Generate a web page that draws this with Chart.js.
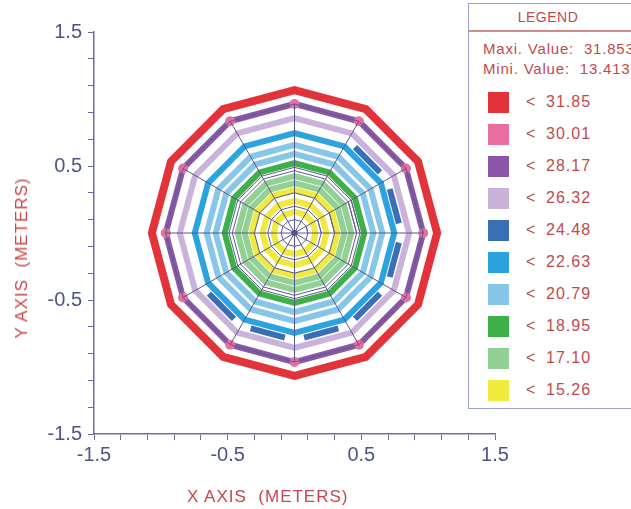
<!DOCTYPE html>
<html lang="en">
<head>
  <meta charset="UTF-8">
  <title>Contour plot</title>
  <script src="https://cdn.jsdelivr.net/npm/chart.js"></script>
  <style>
    body {
      margin: 0;
      background: #fff;
      font-family: "Liberation Sans", Arial, sans-serif;
    }
    #wrap {
      position: relative;
      width: 631px;
      height: 509px;
      overflow: hidden;
    }
    .titulo {
      position: absolute;
      color: #c9474a;
      font-size: 17px;
      letter-spacing: 1px;
      white-space: pre;
    }
    #xTitle { left: 187px; top: 487px; }
    #yTitle { left: 22px; top: 258px; transform: translate(-50%, -50%) rotate(-90deg); }
    #legend {
      position: absolute;
      left: 468px;
      top: 3px;
      width: 175px;
      height: 404px;
      border: 1px solid #9ca1cf;
      background: #fff;
      color: #bf4a4c;
    }
    #legend .head {
      position: absolute; left: 0; top: 5px; width: 158px;
      text-align: center; font-size: 14px; letter-spacing: 0.5px;
    }
    #legend .rule {
      position: absolute; left: 0; top: 26px; width: 175px; height: 0;
      border-top: 2px solid #d58a8a;
    }
    #legend .info {
      position: absolute; left: 14px; font-size: 15px; letter-spacing: 0.8px; white-space: pre;
    }
    .item { position: absolute; left: 19px; height: 21px; }
    .item .sw { position: absolute; left: 0; top: 0; width: 21px; height: 21px; }
    .item .lt { position: absolute; left: 38px; top: 1px; font-size: 16px; }
    .item .val { position: absolute; left: 58px; top: 1px; font-size: 16px; letter-spacing: 1px; }
  </style>
</head>
<body>
<div id="wrap">
  <canvas id="grafico" width="631" height="509"></canvas>
  <div class="titulo" id="xTitle">X AXIS  (METERS)</div>
  <div class="titulo" id="yTitle">Y AXIS  (METERS)</div>
  <div id="legend">
    <div class="head">LEGEND</div>
    <div class="rule"></div>
    <div class="info" id="maxInfo" style="top:36px"></div>
    <div class="info" id="minInfo" style="top:56px"></div>
  </div>
</div>

<script>
  // legend classes
  const legendLimits = [31.85, 30.01, 28.17, 26.32, 24.48, 22.63, 20.79, 18.95, 17.10, 15.26];
  const legendColors = ['#e2323a', '#e96ea0', '#8a57a8', '#cbb2da', '#3a6fb7',
                        '#2ba3df', '#86c6e8', '#3eb04a', '#93d094', '#f0e93e'];
  const maxValue = 31.853;
  const minValue = 13.413;

  // contour rings (dodecagons): radius in meters and legend class
  const ringRadius = [1.067, 0.963, 0.858, 0.746, 0.657, 0.590, 0.522, 0.425, 0.373, 0.321, 0.239, 0.157];
  const ringClass  = [0, 2, 3, 5, 6, 6, 7, 8, 8, 9, 9, 9];

  // partial contour (24.48) only on some sides of the polygon
  const partialRadius = 0.80;
  const partialClass = 4;
  const partialSides = [0, 1, 7, 8, 9, 10, 11];

  // 30.01 spots sit on the corners of this ring
  const spotRadius = 0.963;
  const spotClass = 1;

  // mesh
  const meshRings = [0.963, 0.49, 0.465, 0.30, 0.20, 0.10];
  const spokeLength = 0.963;
  const sides = 12;

  // axis
  const axisMin = -1.5, axisMax = 1.5, axisStep = 0.2, labelEvery = 5;

  // -------- legend (html) --------
  const legend = document.getElementById('legend');
  document.getElementById('maxInfo').textContent = 'Maxi. Value:  ' + maxValue.toFixed(3);
  document.getElementById('minInfo').textContent = 'Mini. Value:  ' + minValue.toFixed(3);
  legendLimits.forEach((v, i) => {
    const it = document.createElement('div');
    it.className = 'item';
    it.style.top = (88 + i * 32) + 'px';
    it.innerHTML = '<div class="sw" style="background:' + legendColors[i] + '"></div>' +
                   '<div class="lt">&lt;</div><div class="val">' + v.toFixed(2) + '</div>';
    legend.appendChild(it);
  });

  // -------- chart --------
  function vertex(r, k) {
    const a = k * 2 * Math.PI / sides;
    return { x: r * Math.cos(a), y: r * Math.sin(a) };
  }
  function polygon(r) {
    const pts = [];
    for (let k = 0; k <= sides + 1; k++) pts.push(vertex(r, k));
    return pts;
  }

  const datasets = [];
  const base = { showLine: true, pointRadius: 0, borderJoinStyle: 'miter', borderCapStyle: 'butt' };

  // spokes
  for (let k = 0; k < sides; k++) {
    datasets.push(Object.assign({}, base, {
      data: [{ x: 0, y: 0 }, vertex(spokeLength, k)],
      borderColor: '#56578c', borderWidth: 1, order: 0
    }));
  }
  // mesh rings
  meshRings.forEach(r => {
    datasets.push(Object.assign({}, base, {
      data: polygon(r), borderColor: '#5b5c8e', borderWidth: 1, order: 0
    }));
  });
  // center dot
  datasets.push({ data: [{ x: 0, y: 0 }], pointRadius: 3, backgroundColor: '#2f3190',
                  borderWidth: 0, order: 0 });
  // spots at corners
  const spots = [];
  for (let k = 0; k < sides; k++) spots.push(vertex(spotRadius, k));
  datasets.push({ data: spots, pointRadius: 5, pointStyle: 'circle', backgroundColor: legendColors[spotClass],
                  borderWidth: 0, order: 1 });
  // full rings
  ringRadius.forEach((r, i) => {
    datasets.push(Object.assign({}, base, {
      data: polygon(r),
      borderColor: legendColors[ringClass[i]],
      borderWidth: ringClass[i] === 0 ? 8 : 6,
      order: 2
    }));
  });
  // partial ring pieces
  partialSides.forEach(k => {
    const a = vertex(partialRadius, k), b = vertex(partialRadius, k + 1);
    const t0 = 0.18, t1 = 0.82;
    datasets.push(Object.assign({}, base, {
      data: [{ x: a.x + (b.x - a.x) * t0, y: a.y + (b.y - a.y) * t0 },
             { x: a.x + (b.x - a.x) * t1, y: a.y + (b.y - a.y) * t1 }],
      borderColor: legendColors[partialClass], borderWidth: 6, order: 2
    }));
  });

  const axisColor = '#6a6e9c';
  const tickFont = { family: '"Liberation Sans", Arial, sans-serif', size: 20 };
  const tickLabel = (v, i) => (i % labelEvery === 0 ? v.toFixed(1) : '');

  new Chart(document.getElementById('grafico').getContext('2d'), {
    type: 'scatter',
    data: { datasets: datasets },
    options: {
      responsive: false,
      animation: false,
      layout: { padding: { top: 32, right: 136, bottom: 0, left: 0 } },
      plugins: { legend: { display: false }, tooltip: { enabled: false } },
      scales: {
        x: {
          type: 'linear', min: axisMin, max: axisMax,
          ticks: { stepSize: axisStep, autoSkip: false, maxRotation: 0, padding: 3,
                   color: '#4e5488', font: tickFont, callback: tickLabel },
          grid: { drawOnChartArea: false, drawTicks: true, tickLength: 6, color: axisColor },
          border: { color: axisColor, width: 1.5 },
          afterFit: s => { s.height = 75; }
        },
        y: {
          type: 'linear', min: axisMin, max: axisMax,
          ticks: { stepSize: axisStep, autoSkip: false, padding: 6,
                   color: '#4e5488', font: tickFont, callback: tickLabel },
          grid: { drawOnChartArea: false, drawTicks: true, tickLength: 6, color: axisColor },
          border: { color: axisColor, width: 1.5 },
          afterFit: s => { s.width = 94; }
        }
      }
    }
  });
</script>
</body>
</html>
